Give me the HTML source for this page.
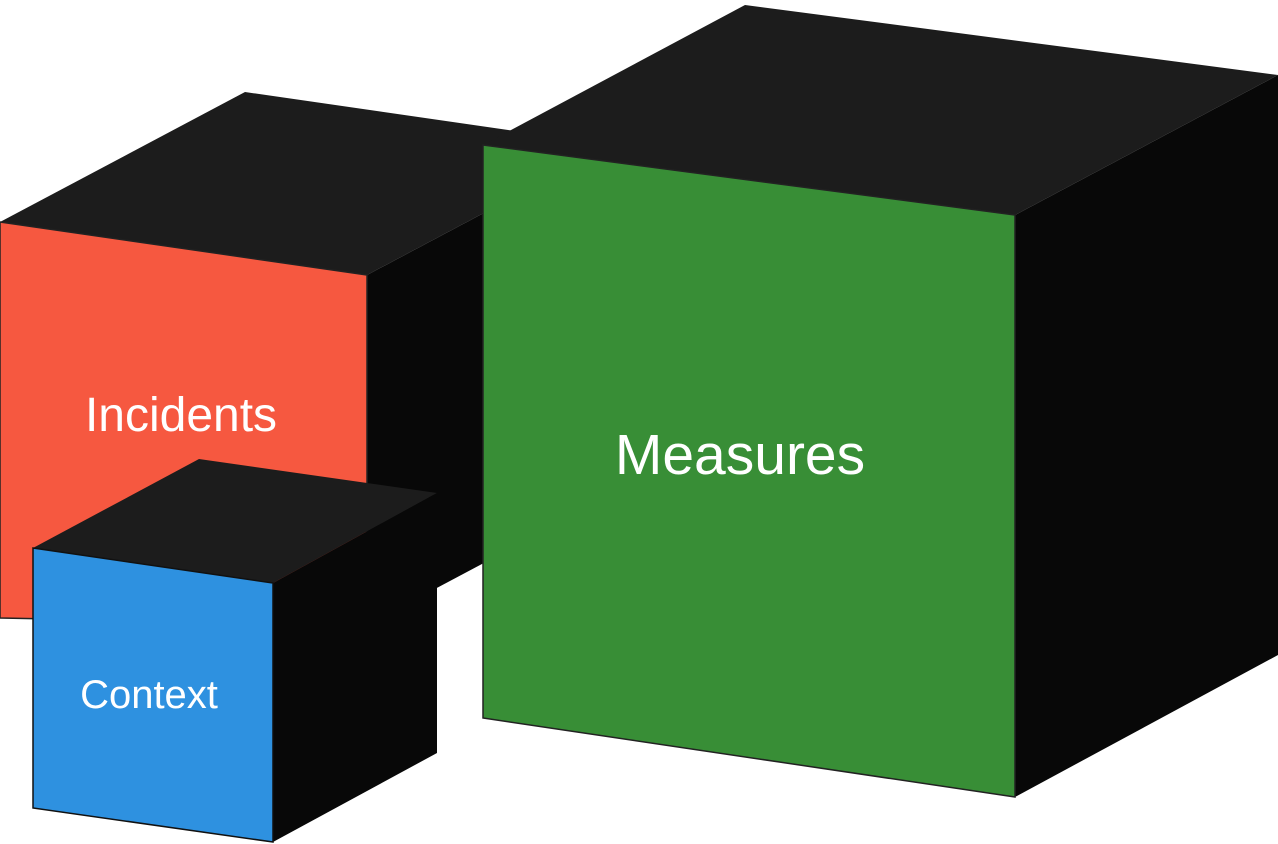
<!DOCTYPE html>
<html><head><meta charset="utf-8"><style>
html,body{margin:0;padding:0;background:#fff;width:1278px;height:844px;overflow:hidden}
svg{display:block}
text{font-family:"Liberation Sans",Arial,sans-serif;fill:#fff}
</style></head><body>
<svg width="1278" height="844" viewBox="0 0 1278 844" xmlns="http://www.w3.org/2000/svg">
<!-- Red cube -->
<polygon points="0,222 245,92 612,145 367,275" fill="#1c1c1c"/>
<polygon points="367,275 612,145 612,495 367,625" fill="#080808"/>
<polygon points="0,222 367,275 367,625 0,618" fill="#f65840" stroke="#222" stroke-width="1.5"/>
<text x="181" y="431" font-size="48" text-anchor="middle">Incidents</text>
<!-- Green cube -->
<polygon points="483,145 745,5 1278,75 1015,215" fill="#1c1c1c"/>
<polygon points="1015,215 1278,75 1278,655 1015,797" fill="#080808"/>
<polygon points="483,145 1015,215 1015,797 483,718" fill="#388e36" stroke="#222" stroke-width="1.5"/>
<text x="740" y="474" font-size="57" text-anchor="middle">Measures</text>
<!-- Blue cube -->
<polygon points="33,548 199,459 437,493 273,583" fill="#1c1c1c"/>
<polygon points="273,583 437,493 437,753 273,842" fill="#080808"/>
<polygon points="33,548 273,583 273,842 33,808" fill="#2e91e0" stroke="#111" stroke-width="1.5"/>
<text x="149" y="708" font-size="40" text-anchor="middle">Context</text>
</svg>
</body></html>
